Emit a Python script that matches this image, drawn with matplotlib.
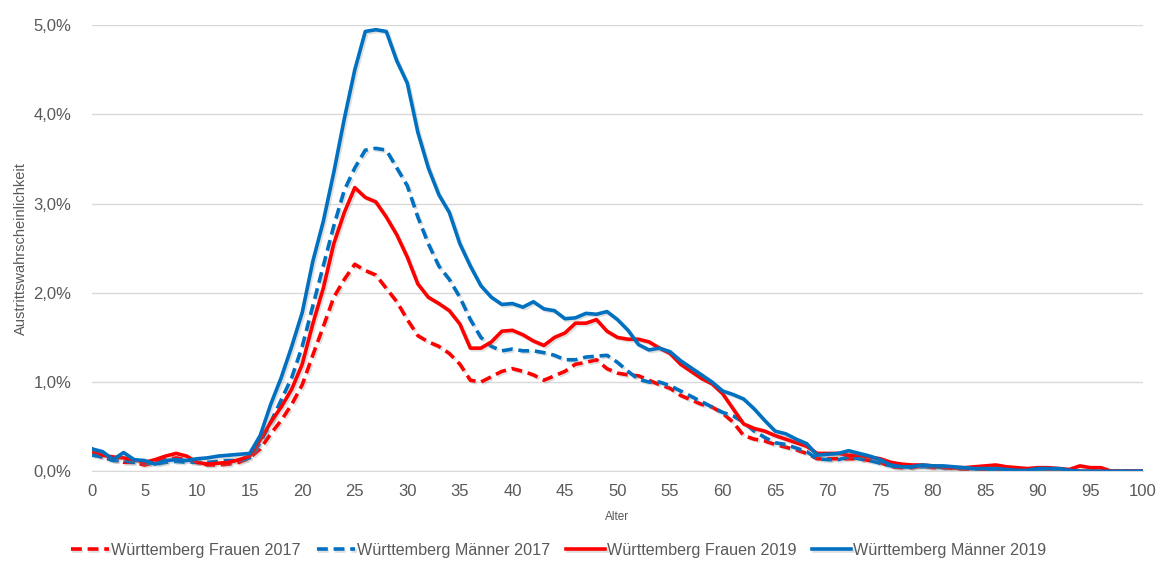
import numpy as np
import matplotlib.pyplot as plt
import matplotlib.patheffects as pe
from matplotlib.ticker import FuncFormatter, MultipleLocator

# Alter 0..100, Werte in Prozent
alter = np.arange(0, 101)

maenner_2019 = [0.25, 0.22, 0.13, 0.21, 0.13, 0.12, 0.08, 0.12, 0.13, 0.12,
                0.14, 0.15, 0.17, 0.18, 0.19, 0.20, 0.40, 0.75, 1.05, 1.40,
                1.78, 2.35, 2.80, 3.35, 3.95, 4.50, 4.93, 4.95, 4.93, 4.60,
                4.35, 3.80, 3.40, 3.10, 2.90, 2.55, 2.30, 2.08, 1.95, 1.87,
                1.88, 1.84, 1.90, 1.82, 1.80, 1.71, 1.72, 1.77, 1.76, 1.79,
                1.70, 1.58, 1.42, 1.36, 1.38, 1.34, 1.24, 1.16, 1.08, 1.00,
                0.90, 0.86, 0.81, 0.70, 0.57, 0.45, 0.42, 0.36, 0.31, 0.18,
                0.19, 0.20, 0.23, 0.20, 0.17, 0.13, 0.07, 0.05, 0.05, 0.07,
                0.06, 0.06, 0.05, 0.04, 0.03, 0.03, 0.03, 0.02, 0.01, 0.01,
                0.03, 0.03, 0.03, 0.01, 0.00, 0.00, 0.00, 0.00, 0.00, 0.00,
                0.00]

maenner_2017 = [0.18, 0.16, 0.12, 0.12, 0.10, 0.10, 0.08, 0.10, 0.11, 0.10,
                0.10, 0.10, 0.11, 0.12, 0.12, 0.15, 0.32, 0.55, 0.80, 1.05,
                1.40, 1.85, 2.30, 2.75, 3.15, 3.40, 3.60, 3.62, 3.60, 3.40,
                3.20, 2.85, 2.55, 2.30, 2.15, 1.95, 1.70, 1.50, 1.40, 1.35,
                1.37, 1.35, 1.35, 1.33, 1.30, 1.25, 1.25, 1.28, 1.29, 1.30,
                1.22, 1.12, 1.03, 1.00, 1.00, 0.96, 0.90, 0.84, 0.78, 0.72,
                0.66, 0.62, 0.55, 0.45, 0.38, 0.32, 0.30, 0.26, 0.22, 0.14,
                0.13, 0.13, 0.16, 0.14, 0.12, 0.09, 0.06, 0.05, 0.05, 0.05,
                0.05, 0.04, 0.04, 0.03, 0.03, 0.02, 0.02, 0.02, 0.01, 0.01,
                0.02, 0.02, 0.02, 0.01, 0.00, 0.00, 0.00, 0.00, 0.00, 0.00,
                0.00]

frauen_2019 = [0.25, 0.18, 0.16, 0.15, 0.13, 0.10, 0.13, 0.17, 0.20, 0.17,
               0.10, 0.08, 0.09, 0.10, 0.13, 0.17, 0.35, 0.55, 0.72, 0.92,
               1.20, 1.65, 2.05, 2.55, 2.90, 3.18, 3.07, 3.02, 2.85, 2.65,
               2.40, 2.10, 1.95, 1.88, 1.80, 1.65, 1.38, 1.38, 1.45, 1.57,
               1.58, 1.53, 1.46, 1.41, 1.50, 1.55, 1.66, 1.66, 1.70, 1.57,
               1.50, 1.48, 1.48, 1.45, 1.38, 1.32, 1.20, 1.12, 1.04, 0.98,
               0.87, 0.70, 0.53, 0.48, 0.45, 0.40, 0.36, 0.32, 0.28, 0.20,
               0.20, 0.20, 0.18, 0.18, 0.16, 0.14, 0.10, 0.08, 0.07, 0.07,
               0.06, 0.05, 0.04, 0.04, 0.05, 0.06, 0.07, 0.05, 0.04, 0.03,
               0.04, 0.04, 0.03, 0.02, 0.06, 0.04, 0.04, 0.00, 0.00, 0.00,
               0.00]

frauen_2017 = [0.22, 0.15, 0.13, 0.10, 0.10, 0.07, 0.10, 0.13, 0.15, 0.13,
               0.10, 0.07, 0.07, 0.08, 0.10, 0.15, 0.25, 0.42, 0.57, 0.75,
               0.97, 1.30, 1.62, 1.95, 2.15, 2.32, 2.25, 2.20, 2.05, 1.90,
               1.70, 1.52, 1.45, 1.40, 1.32, 1.20, 1.02, 1.00, 1.06, 1.12,
               1.15, 1.12, 1.08, 1.02, 1.07, 1.12, 1.20, 1.22, 1.25, 1.15,
               1.10, 1.08, 1.07, 1.02, 0.97, 0.93, 0.85, 0.80, 0.75, 0.72,
               0.65, 0.55, 0.40, 0.36, 0.34, 0.30, 0.27, 0.24, 0.20, 0.14,
               0.14, 0.14, 0.14, 0.14, 0.12, 0.10, 0.05, 0.04, 0.04, 0.06,
               0.04, 0.04, 0.03, 0.02, 0.02, 0.02, 0.02, 0.01, 0.01, 0.01,
               0.01, 0.01, 0.01, 0.00, 0.00, 0.00, 0.00, 0.00, 0.00, 0.00,
               0.00]

ROT = "#FF0000"
BLAU = "#0070C0"
GRAU = "#595959"

plt.rcParams["font.family"] = ["Liberation Sans", "DejaVu Sans"]

fig = plt.figure(figsize=(11.58, 5.61), dpi=100)
ax = fig.add_axes([0.0795, 0.16, 0.9075, 0.795])

schatten = [pe.SimpleLineShadow(offset=(1.2, -1.2), alpha=0.25, shadow_color="gray"), pe.Normal()]

serien = [
    (frauen_2017, ROT, (0, (3, 1.6)), "Württemberg Frauen 2017"),
    (maenner_2017, BLAU, (0, (3, 1.6)), "Württemberg Männer 2017"),
    (frauen_2019, ROT, "-", "Württemberg Frauen 2019"),
    (maenner_2019, BLAU, "-", "Württemberg Männer 2019"),
]
for werte, farbe, stil, name in serien:
    ax.plot(alter, werte, color=farbe, linestyle=stil, linewidth=2.6,
            label=name, path_effects=schatten)

ax.set_xlim(0, 100)
ax.set_ylim(0, 5.0)
ax.xaxis.set_major_locator(MultipleLocator(5))
ax.yaxis.set_major_locator(MultipleLocator(1))
ax.yaxis.set_major_formatter(FuncFormatter(lambda v, p: f"{v:.1f}%".replace(".", ",")))

ax.grid(axis="y", color="#D9D9D9", linewidth=1)
ax.set_axisbelow(True)
for s in ["top", "right", "left"]:
    ax.spines[s].set_visible(False)
ax.spines["bottom"].set_color("#D9D9D9")
ax.tick_params(axis="y", length=0, labelsize=12, labelcolor=GRAU, pad=15)
ax.tick_params(axis="x", length=0, labelsize=12, labelcolor=GRAU, pad=9)

ax.set_xlabel("Alter", fontsize=8.5, color=GRAU, labelpad=9)
ax.set_ylabel("Austrittswahrscheinlichkeit", fontsize=10.5, color=GRAU, labelpad=4)

fig.legend(loc="lower center", bbox_to_anchor=(0.482, -0.02), ncol=4, frameon=False,
           fontsize=11.6, handlelength=2.4, handletextpad=0.1, columnspacing=1.0,
           labelcolor=GRAU)

fig.savefig("out.png", dpi=100)
